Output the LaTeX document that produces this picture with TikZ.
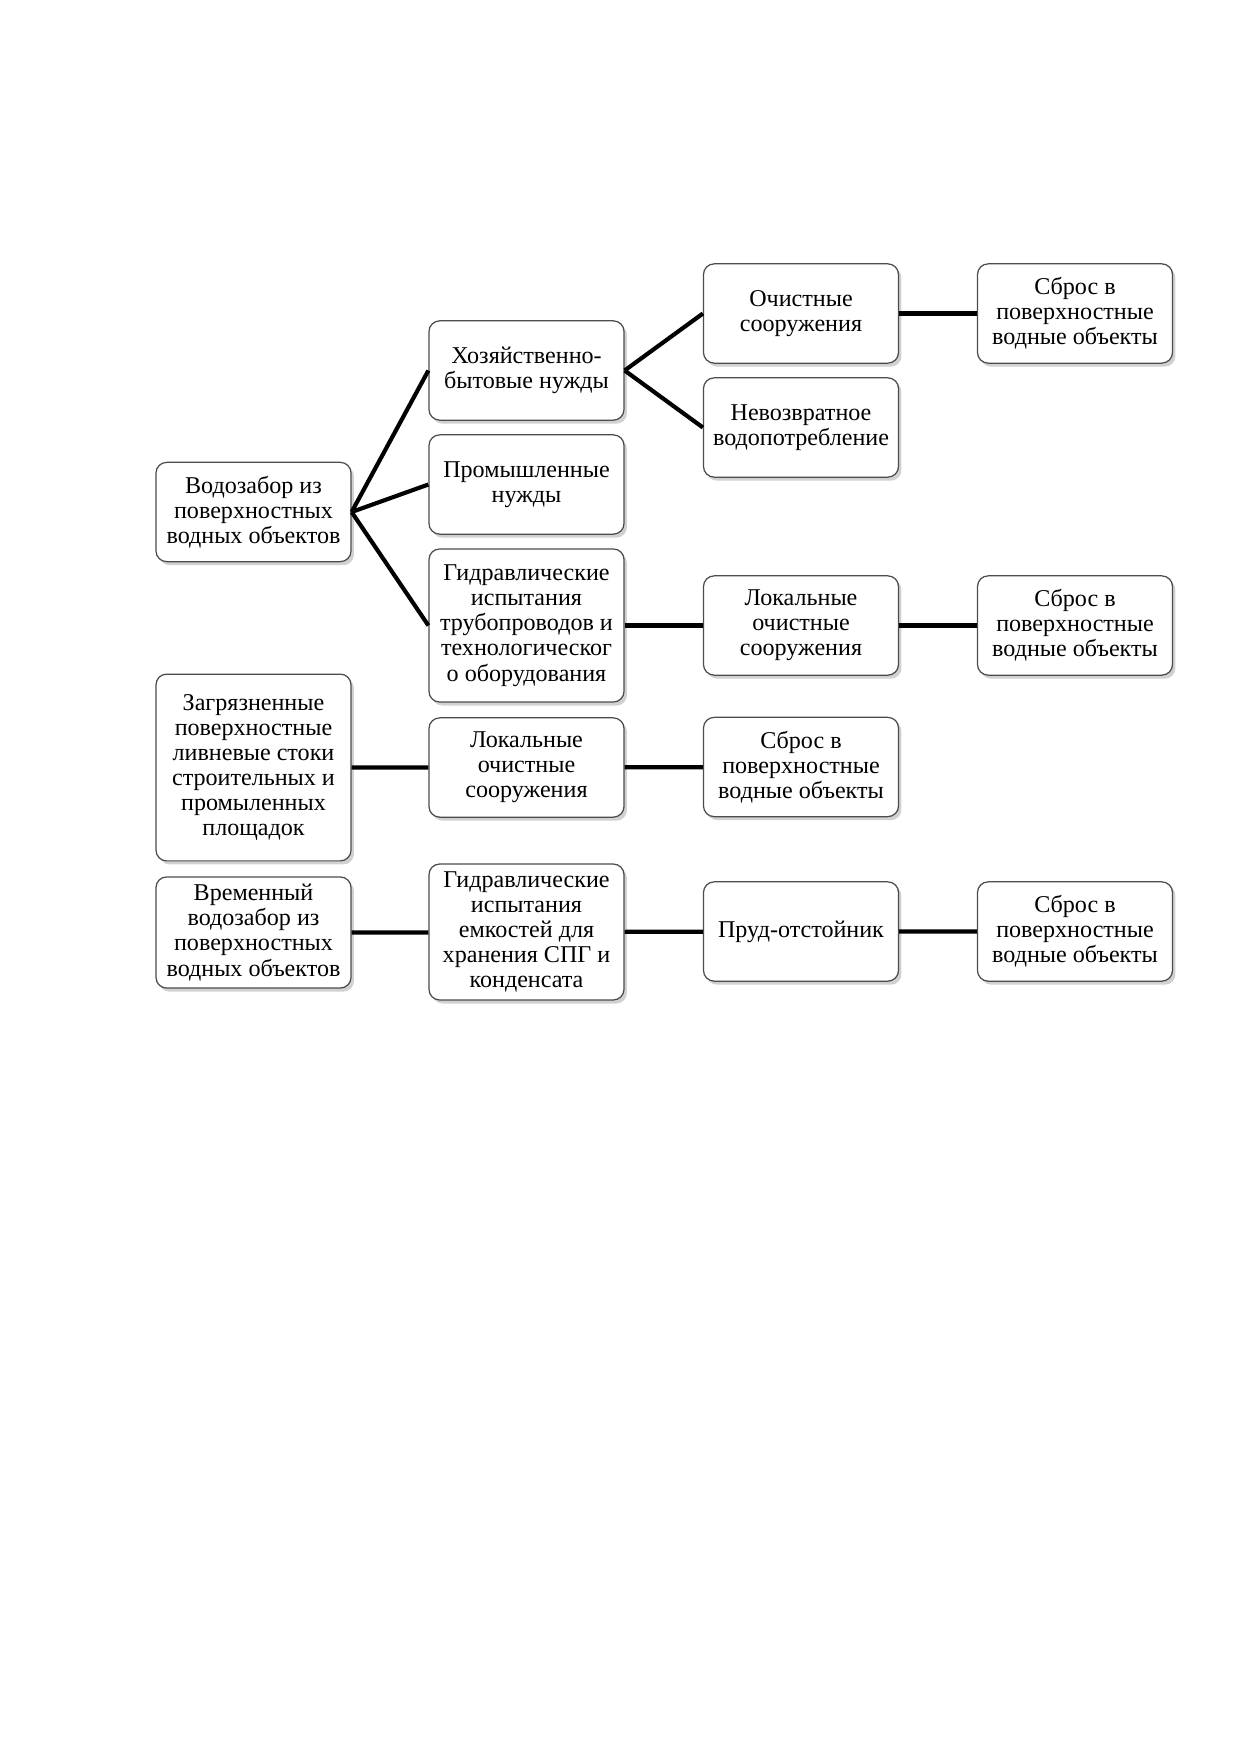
\documentclass[tikz,border=0pt]{standalone}
\usepackage{fontspec}
\setmainfont{Liberation Serif}
\usetikzlibrary{shadows}

\begin{document}
\begin{tikzpicture}
    [x=0.16922mm, y=-0.16922mm,
    %Option for boxes and links
    box/.style={draw=black!70, line width=0.6pt, fill=white, rounded corners=1.8mm,
        minimum width=33mm, minimum height=16.8mm, inner sep=1pt, align=center,
        font=\fontsize{11.6}{12.1}\selectfont,
        drop shadow={shadow xshift=0.5mm, shadow yshift=-0.6mm, fill=black!30, opacity=0.6}},
    link/.style={line width=2pt}]

    \useasboundingbox (0,0) rectangle (1241,1754);

    % Sources
    \node[box] (intake) at (253.5,512) {Водозабор из\\поверхностных\\водных объектов};
    \node[box, minimum height=31.6mm] (storm) at (253.5,767.5)
        {Загрязненные\\поверхностные\\ливневые стоки\\строительных и\\промыленных\\площадок};
    \node[box, minimum height=18.8mm] (tempintake) at (253.5,932.5)
        {Временный\\водозабор из\\поверхностных\\водных объектов};

    % Uses
    \node[box] (household) at (526.5,370.5) {Хозяйственно-\\бытовые нужды};
    \node[box] (industry) at (526.5,484.5) {Промышленные\\нужды};
    \node[box, minimum height=25.9mm] (pipetest) at (526.5,625.5)
        {Гидравлические\\испытания\\трубопроводов и\\технологическог\\о оборудования};
    \node[box] (localB) at (526.5,767.5) {Локальные\\очистные\\сооружения};
    \node[box, minimum height=23mm] (tanktest) at (526.5,932)
        {Гидравлические\\испытания\\емкостей для\\хранения СПГ и\\конденсата};

    % Treatment
    \node[box] (treat) at (801,313.5) {Очистные\\сооружения};
    \node[box] (loss) at (801,427.5) {Невозвратное\\водопотребление};
    \node[box] (localC) at (801,625.5) {Локальные\\очистные\\сооружения};
    \node[box] (sbrosC) at (801,767) {Сброс в\\поверхностные\\водные объекты};
    \node[box] (pond) at (801,931.5) {Пруд-отстойник};

    % Discharge
    \foreach \n/\y in {1/313.5, 3/625.5, 5/931.5}
        \node[box] (sbros\n) at (1075,\y) {Сброс в\\поверхностные\\водные объекты};

    % Links
    \foreach \t in {household, industry, pipetest}
        \draw[link] (intake.east) -- (\t.west);
    \foreach \t in {treat, loss}
        \draw[link] (household.east) -- (\t.west);
    \draw[link] (treat) -- (sbros1);
    \draw[link] (pipetest.east) -- (localC) -- (sbros3);
    \draw[link] (storm) -- (localB) -- (sbrosC);
    \draw[link] (tempintake) -- (tanktest.west |- tempintake) (tanktest) -- (pond) -- (sbros5);

\end{tikzpicture}
\end{document}
